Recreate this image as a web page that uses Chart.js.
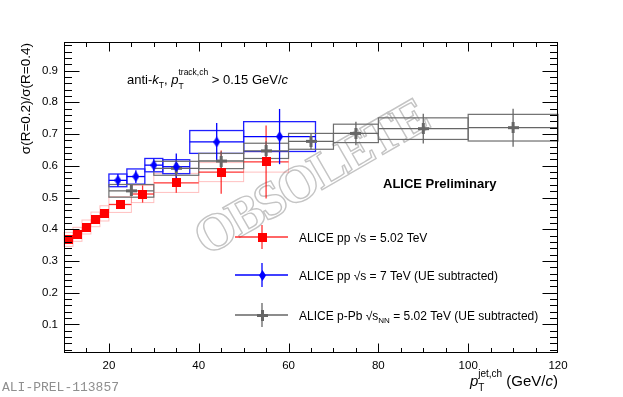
<!DOCTYPE html>
<html lang="en">
<head>
<meta charset="UTF-8">
<title>Jet cross-section ratio R=0.2 / R=0.4</title>
<script src="https://cdn.jsdelivr.net/npm/chart.js"></script>
<style>
  body { margin: 0; background: #fff; }
  #wrap { width: 623px; height: 397px; }
</style>
</head>
<body>
<div id="wrap"><canvas id="ratio" width="623" height="397"></canvas></div>
<script>
// ALICE pp 5.02 TeV
const ppX    = [11, 13, 15, 17, 19, 22.5, 27.5, 35, 45, 55];
const ppLo   = [10, 12, 14, 16, 18, 20, 25, 30, 40, 50];
const ppHi   = [12, 14, 16, 18, 20, 25, 30, 40, 50, 60];
const ppY    = [0.368, 0.384, 0.407, 0.431, 0.450, 0.478, 0.511, 0.546, 0.580, 0.612];
const ppStat = [0.005, 0.005, 0.005, 0.006, 0.006, 0.012, 0.027, 0.031, 0.068, 0.115];
const ppSys  = [0.022, 0.022, 0.022, 0.023, 0.024, 0.025, 0.027, 0.03, 0.03, 0.032];

// ALICE pp 7 TeV (UE subtracted)
const p7X    = [22, 26, 30, 35, 44, 58];
const p7Lo   = [20, 24, 28, 32, 38, 50];
const p7Hi   = [24, 28, 32, 38, 50, 66];
const p7Y    = [0.554, 0.566, 0.602, 0.597, 0.675, 0.692];
const p7Stat = [0.02, 0.02, 0.02, 0.042, 0.06, 0.087];
const p7Sys  = [0.02, 0.024, 0.021, 0.022, 0.036, 0.047];

// ALICE p-Pb 5.02 TeV (UE subtracted)
const pbX    = [25, 35, 45, 55, 65, 75, 90, 110];
const pbLo   = [20, 30, 40, 50, 60, 70, 80, 100];
const pbHi   = [30, 40, 50, 60, 70, 80, 100, 120];
const pbY    = [0.521, 0.592, 0.615, 0.647, 0.677, 0.702, 0.717, 0.720];
const pbStat = [0.008, 0.026, 0.03, 0.03, 0.025, 0.037, 0.047, 0.06];
const pbSys  = [0.02, 0.022, 0.024, 0.024, 0.025, 0.029, 0.034, 0.042];

const xTicks = [20, 40, 60, 80, 100, 120];
const yTicks = [0.1, 0.2, 0.3, 0.4, 0.5, 0.6, 0.7, 0.8, 0.9];

const SANS = "'Liberation Sans', Arial, sans-serif";
const RED = '#ff0000', BLUE = '#0000ff', GREY = '#666666';

// marker images (ROOT-like)
function markerCanvas(w, h, draw) {
    const c = document.createElement('canvas');
    c.width = w; c.height = h;
    draw(c.getContext('2d'));
    return c;
}
const squareMk = markerCanvas(9, 9, g => { g.fillStyle = RED; g.fillRect(0, 0, 9, 9); });
const diamondMk = markerCanvas(7, 11, g => {
    g.fillStyle = BLUE; g.beginPath();
    g.moveTo(3.5, 0); g.lineTo(7, 5.5); g.lineTo(3.5, 11); g.lineTo(0, 5.5);
    g.closePath(); g.fill();
});
const crossMk = markerCanvas(11, 11, g => {
    g.fillStyle = GREY; g.fillRect(0, 4, 11, 3); g.fillRect(4, 0, 3, 11);
});

function pts(xs, ys) { return xs.map((x, i) => ({ x: x, y: ys[i] })); }

const series = [
    { x: ppX, lo: ppLo, hi: ppHi, y: ppY, stat: ppStat, sys: ppSys, box: 'rgba(255,0,0,0.25)', line: 'rgba(255,0,0,0.8)', bw: 1 },
    { x: p7X, lo: p7Lo, hi: p7Hi, y: p7Y, stat: p7Stat, sys: p7Sys, box: '#1f1fff', line: BLUE, bw: 1.3 },
    { x: pbX, lo: pbLo, hi: pbHi, y: pbY, stat: pbStat, sys: pbSys, box: '#6e6e6e', line: GREY, bw: 1.2 }
];

function rich(ctx, x, y, parts, align) {
    let w = 0;
    parts.forEach(p => { ctx.font = p.f; if (!p.stack) w += ctx.measureText(p.t).width; });
    let cx = align === 'right' ? x - w : x;
    ctx.textAlign = 'left';
    ctx.textBaseline = 'alphabetic';
    parts.forEach(p => {
        ctx.font = p.f;
        ctx.fillText(p.t, cx, y + (p.dy || 0));
        if (!p.stack) cx += ctx.measureText(p.t).width;
    });
}

function line(ctx, x0, y0, x1, y1) {
    ctx.beginPath(); ctx.moveTo(x0, y0); ctx.lineTo(x1, y1); ctx.stroke();
}

const decor = {
    id: 'decor',
    beforeDatasetsDraw(chart) {
        const ctx = chart.ctx, xs = chart.scales.x, ys = chart.scales.y;
        ctx.save();
        // watermark
        ctx.save();
        ctx.translate(312, 180);
        ctx.rotate(-30 * Math.PI / 180);
        ctx.font = "bold 52px 'Liberation Serif', serif";
        ctx.letterSpacing = '-3px';
        ctx.textAlign = 'center';
        ctx.textBaseline = 'middle';
        ctx.strokeStyle = '#c4c4c4';
        ctx.lineWidth = 1.4;
        ctx.strokeText('OBSOLETE', 0, 0);
        ctx.restore();

        // systematic boxes
        series.forEach(s => {
            ctx.strokeStyle = s.box; ctx.lineWidth = s.bw;
            s.x.forEach((v, i) => {
                const x0 = xs.getPixelForValue(s.lo[i]), x1 = xs.getPixelForValue(s.hi[i]);
                const y0 = ys.getPixelForValue(s.y[i] + s.sys[i]), y1 = ys.getPixelForValue(s.y[i] - s.sys[i]);
                ctx.strokeRect(x0, y0, x1 - x0, y1 - y0);
            });
        });
        // error bars
        series.forEach(s => {
            ctx.strokeStyle = s.line; ctx.lineWidth = 1.3;
            s.x.forEach((v, i) => {
                const px = xs.getPixelForValue(v), py = ys.getPixelForValue(s.y[i]);
                line(ctx, xs.getPixelForValue(s.lo[i]), py, xs.getPixelForValue(s.hi[i]), py);
                line(ctx, px, ys.getPixelForValue(s.y[i] + s.stat[i]), px, ys.getPixelForValue(s.y[i] - s.stat[i]));
            });
        });
        ctx.restore();
    },
    afterDraw(chart) {
        const ctx = chart.ctx, xs = chart.scales.x, ys = chart.scales.y, a = chart.chartArea;
        ctx.save();
        // frame and inner ticks
        ctx.strokeStyle = '#000'; ctx.lineWidth = 1;
        const L = Math.round(a.left) + 0.5, R = Math.round(a.right) - 0.5;
        const T = Math.round(a.top) + 0.5, B = Math.round(a.bottom) - 0.5;
        ctx.strokeRect(L, T, R - L, B - T);
        for (let v = 15; v < 120; v += 5) {
            const px = Math.round(xs.getPixelForValue(v)) + 0.5;
            const len = v % 20 === 0 ? 9 : 4.5;
            line(ctx, px, B, px, B - len);
            line(ctx, px, T, px, T + len);
        }
        for (let k = 1; k < 50; k++) {
            const v = k * 0.02;
            const py = Math.round(ys.getPixelForValue(v)) + 0.5;
            const len = k % 5 === 0 ? 15 : 7.5;
            line(ctx, L, py, L + len, py);
            line(ctx, R, py, R - len, py);
        }

        ctx.fillStyle = '#000';
        // y title
        ctx.save();
        ctx.translate(26, 43);
        ctx.rotate(-Math.PI / 2);
        ctx.font = '13.5px ' + SANS;
        ctx.textAlign = 'right';
        ctx.textBaseline = 'middle';
        ctx.fillText('\u03c3(R=0.2)/\u03c3(R=0.4)', 0, 0);
        ctx.restore();

        // x title
        rich(ctx, 558, 386, [
            { t: 'p', f: 'italic 15px ' + SANS },
            { t: 'T', f: '10px ' + SANS, dy: 5, stack: true },
            { t: 'jet,ch', f: '10px ' + SANS, dy: -9 },
            { t: ' (GeV/', f: '15px ' + SANS },
            { t: 'c', f: 'italic 15px ' + SANS },
            { t: ')', f: '15px ' + SANS }
        ], 'right');

        // algorithm label
        rich(ctx, 127, 84, [
            { t: 'anti-', f: '13px ' + SANS },
            { t: 'k', f: 'italic 13px ' + SANS },
            { t: 'T', f: '8.5px ' + SANS, dy: 4 },
            { t: ', ', f: '13px ' + SANS },
            { t: 'p', f: 'italic 13px ' + SANS },
            { t: 'T', f: '8.5px ' + SANS, dy: 5, stack: true },
            { t: 'track,ch', f: '8.5px ' + SANS, dy: -9 },
            { t: ' > 0.15 GeV/', f: '13px ' + SANS },
            { t: 'c', f: 'italic 13px ' + SANS }
        ]);

        ctx.font = 'bold 13px ' + SANS;
        ctx.textAlign = 'left';
        ctx.fillText('ALICE Preliminary', 383, 188);

        // legend
        const legend = [
            { y: 237, s: series[0], mk: squareMk, text: [{ t: 'ALICE pp \u221as = 5.02 TeV', f: '12px ' + SANS }] },
            { y: 275, s: series[1], mk: diamondMk, text: [{ t: 'ALICE pp \u221as = 7 TeV (UE subtracted)', f: '12px ' + SANS }] },
            { y: 315, s: series[2], mk: crossMk, text: [
                { t: 'ALICE p-Pb \u221as', f: '12px ' + SANS },
                { t: 'NN', f: '8px ' + SANS, dy: 3 },
                { t: ' = 5.02 TeV (UE subtracted)', f: '12px ' + SANS }
            ] }
        ];
        legend.forEach(e => {
            ctx.strokeStyle = e.s.line; ctx.lineWidth = 1.3;
            line(ctx, 235, e.y, 288, e.y);
            line(ctx, 262, e.y - 12, 262, e.y + 12);
            ctx.drawImage(e.mk, Math.round(262 - e.mk.width / 2), Math.round(e.y - e.mk.height / 2));
            ctx.fillStyle = '#000';
            rich(ctx, 299, e.y + 4.5, e.text);
        });

        // preliminary id
        ctx.font = "13px 'Liberation Mono', monospace";
        ctx.fillStyle = '#8f8f8f';
        ctx.textAlign = 'left';
        ctx.fillText('ALI-PREL-113857', 2, 391);
        ctx.restore();
    }
};

new Chart(document.getElementById('ratio'), {
    type: 'scatter',
    data: {
        datasets: [
            { label: 'pp 5.02 TeV', data: pts(ppX, ppY), pointStyle: squareMk },
            { label: 'pp 7 TeV', data: pts(p7X, p7Y), pointStyle: diamondMk },
            { label: 'p-Pb 5.02 TeV', data: pts(pbX, pbY), pointStyle: crossMk }
        ]
    },
    options: {
        responsive: false,
        animation: false,
        devicePixelRatio: 1,
        layout: { padding: { left: 0, top: 42, right: 65, bottom: 0 } },
        plugins: { legend: { display: false }, tooltip: { enabled: false } },
        scales: {
            x: {
                type: 'linear', min: 10, max: 120,
                grid: { display: false, drawTicks: false },
                border: { display: false },
                afterBuildTicks: s => { s.ticks = xTicks.map(v => ({ value: v })); },
                afterFit: s => { s.height = 44; },
                ticks: { color: '#000', font: { family: SANS, size: 11.5 }, padding: 6, maxRotation: 0, autoSkip: false }
            },
            y: {
                type: 'linear', min: 0.01, max: 0.99,
                grid: { display: false, drawTicks: false },
                border: { display: false },
                afterBuildTicks: s => { s.ticks = yTicks.map(v => ({ value: v })); },
                afterFit: s => { s.width = 64; },
                ticks: { color: '#000', font: { family: SANS, size: 11.5 }, padding: 6, callback: v => v.toFixed(1) }
            }
        }
    },
    plugins: [decor]
});
</script>
</body>
</html>
